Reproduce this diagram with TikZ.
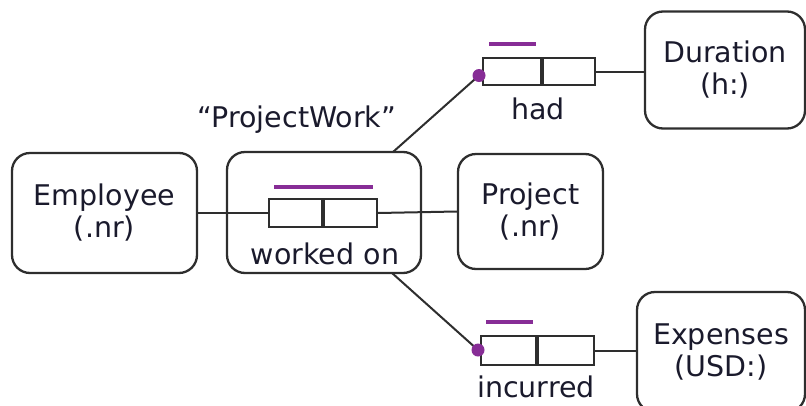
\documentclass[tikz,border=0pt]{standalone}
\usepackage{fontspec}
\setmainfont{DejaVu Sans}
\usetikzlibrary{calc}
\definecolor{ink}{HTML}{1A1A2C}
\definecolor{edge}{HTML}{2E2E2E}
\definecolor{marker}{RGB}{135,45,150}
\tikzset{
  objbox/.style={draw=edge, line width=2.3pt, rounded corners=18pt, inner sep=0pt,
    align=center, text=ink, font=\fontsize{28.5}{32}\selectfont},
  rolebox/.style={draw=edge, line width=1.8pt, inner sep=0pt,
    minimum width=53pt, minimum height=28pt},
  label/.style={text=ink, inner sep=0pt, font=\fontsize{28.5}{32}\selectfont},
  link/.style={draw=edge, line width=2pt},
  uniq/.style={draw=marker, line width=4pt},
  mand/.style={inner sep=0pt, minimum size=0pt}
}
\begin{document}
\begin{tikzpicture}[x=1pt, y=-1pt]
  \useasboundingbox (0,0) rectangle (806,405);
  \clip (0,0) rectangle (806,405);

  % object types
  \node[objbox, minimum width=185pt, minimum height=120pt] (emp) at (104.5,213) {Employee\\(.nr)};
  \node[objbox, minimum width=194pt, minimum height=121pt] (pw) at (324,212.5) {};
  \node[objbox, minimum width=145pt, minimum height=115pt] (proj) at (530.5,211.5) {Project\\(.nr)};
  \node[objbox, minimum width=160pt, minimum height=117pt] (dur) at (725,70) {Duration\\(h:)};
  \node[objbox, minimum width=168pt, minimum height=120pt] (exp) at (721,352) {Expenses\\(USD:)};

  % objectified fact type "worked on"
  \node[rolebox, anchor=east] (wa) at (323,213) {};
  \node[rolebox, anchor=west] (wb) at (323,213) {};
  \node[label, anchor=base] (wlab) at (325,264) {worked on};
  \node[label, anchor=base] (pwlab) at (297,127) {“ProjectWork”};

  % fact type "had"
  \node[rolebox, minimum width=58pt, minimum height=27pt, anchor=east] (ha) at (542,71.5) {};
  \node[rolebox, minimum width=52pt, minimum height=27pt, anchor=west] (hb) at (542,71.5) {};
  \node[label, anchor=base] (hlab) at (538,119) {had};

  % fact type "incurred"
  \node[rolebox, minimum width=55pt, minimum height=29pt, anchor=east] (ia) at (537,350.5) {};
  \node[rolebox, minimum width=56pt, minimum height=29pt, anchor=west] (ib) at (537,350.5) {};
  \node[label, anchor=base] (ilab) at (536,397) {incurred};

  % uniqueness constraints
  \draw[uniq] (274,187) -- (373,187);
  \draw[uniq] (489,44) -- (536,44);
  \draw[uniq] (486,322) -- (533,322);

  % attachment points on the objectified type
  \coordinate (pwtop) at (393,152);
  \coordinate (pwbot) at (392,273);

  % connectors
  \draw[link] (emp.east) -- (wa.west);
  \draw[link] (wb.east) -- (proj.west);
  \draw[link] (hb.east) -- (dur.west |- hb.east);
  \draw[link] (ib.east) -- (exp.west |- ib.east);

  % mandatory role dots
  \node[mand] (hdot) at (479,75.5) {};
  \node[mand] (idot) at (478,350) {};
  \draw[link] (pwtop) -- (hdot.center);
  \draw[link] (pwbot) -- (idot.center);
  \fill[marker] (hdot) circle (6.5pt);
  \fill[marker] (idot) circle (6.5pt);
\end{tikzpicture}
\end{document}
